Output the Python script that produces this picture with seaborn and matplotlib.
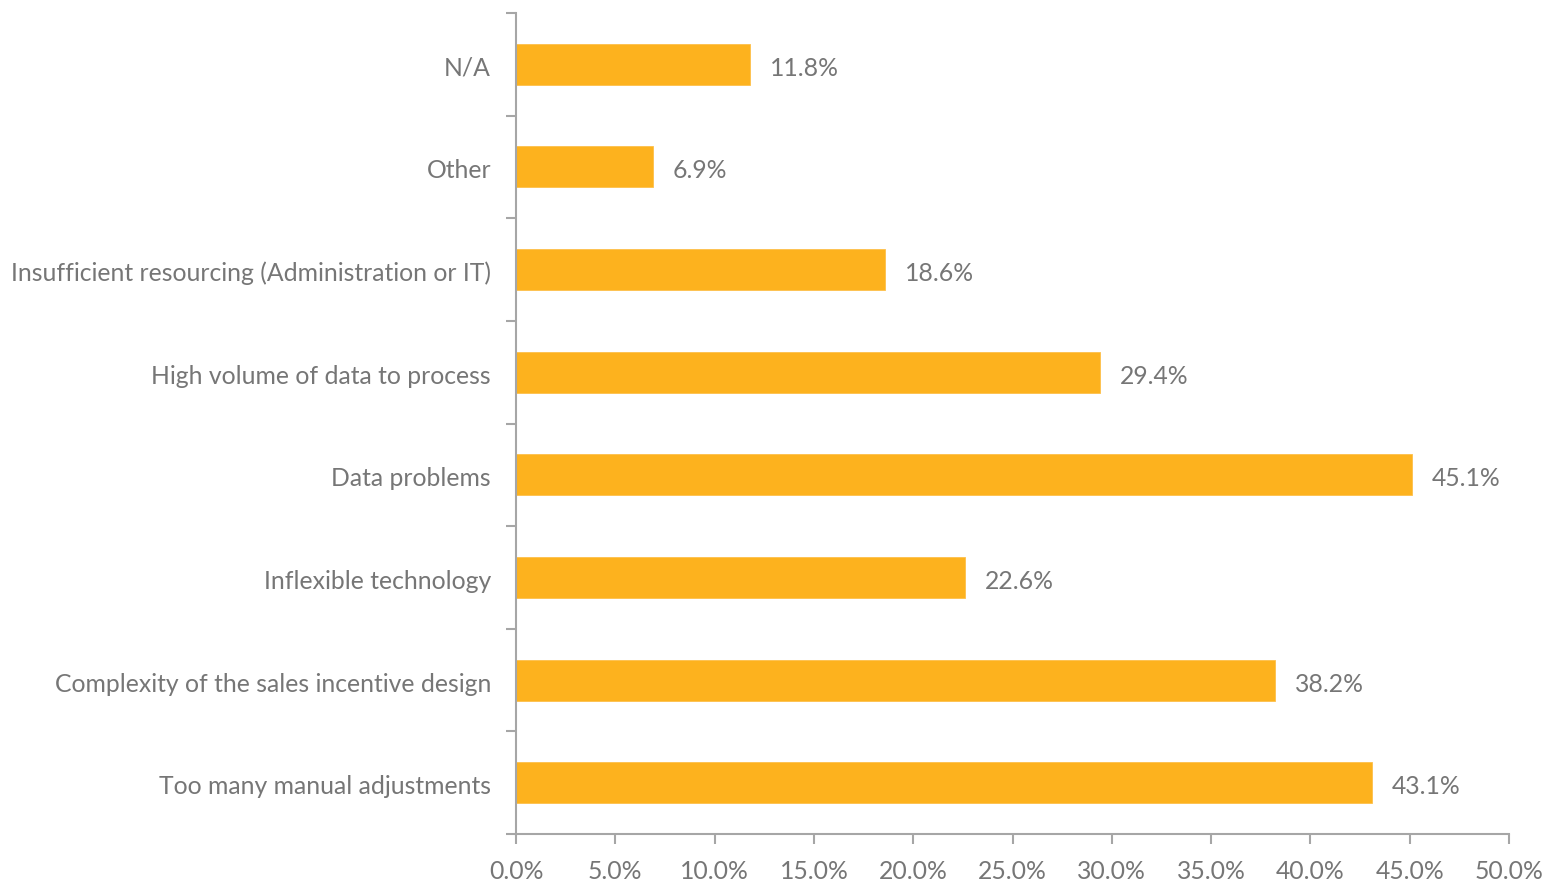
import matplotlib
matplotlib.use("Agg")
import matplotlib.pyplot as plt
import matplotlib.transforms as mtransforms
from matplotlib.ticker import FixedLocator, PercentFormatter
import seaborn as sns
import pandas as pd
import numpy as np

categories = [
    "N/A",
    "Other",
    "Insufficient resourcing (Administration or IT)",
    "High volume of data to process",
    "Data problems",
    "Inflexible technology",
    "Complexity of the sales incentive design",
    "Too many manual adjustments",
]
values = [11.8, 6.9, 18.6, 29.4, 45.1, 22.6, 38.2, 43.1]
x_ticks = [0, 5, 10, 15, 20, 25, 30, 35, 40, 45, 50]

bar_color = "#FDB21E"
text_color = "#767676"
axis_color = "#A6A6A6"
font_size = 17.8

sns.set_theme(style="white")
plt.rcParams["font.family"] = ["Lato", "DejaVu Sans"]

df = pd.DataFrame({"category": categories, "value": values})

fig = plt.figure(figsize=(15.45, 8.82), dpi=100)
ax = fig.add_axes([516 / 1545, 1 - 834 / 882, (1509 - 516) / 1545, (834 - 13) / 882])

sns.barplot(data=df, x="value", y="category", orient="h", color=bar_color,
            saturation=1, width=0.4, edgecolor="#FDC04A", linewidth=0.6, ax=ax)

n = len(categories)
ax.set_ylim(n - 0.5, -0.5)
ax.set_xlim(0, 50)
ax.set_xticks(x_ticks)
ax.xaxis.set_major_formatter(PercentFormatter(decimals=1))
ax.yaxis.set_minor_locator(FixedLocator(np.arange(-0.5, n, 1.0)))

ax.set_xlabel("")
ax.set_ylabel("")

for side in ["top", "right"]:
    ax.spines[side].set_visible(False)
for side in ["left", "bottom"]:
    ax.spines[side].set_color(axis_color)
    ax.spines[side].set_linewidth(1.5)

ax.tick_params(axis="y", which="major", length=0, pad=18, labelsize=font_size, labelcolor=text_color)
ax.tick_params(axis="y", which="minor", length=7, width=1.5, color=axis_color, direction="out", left=True)
ax.tick_params(axis="x", which="major", length=7, width=1.5, color=axis_color, direction="out",
               bottom=True, pad=12, labelsize=font_size, labelcolor=text_color)

# nudge category labels slightly down so they sit level with the bar centres
shift = mtransforms.ScaledTranslation(0, -2 / 100, fig.dpi_scale_trans)
for lbl in ax.get_yticklabels():
    lbl.set_verticalalignment("center_baseline")
    lbl.set_transform(lbl.get_transform() + shift)

for i, v in enumerate(values):
    ax.text(v + 1.0, i, f"{v:.1f}%", va="center_baseline", ha="left",
            fontsize=font_size, color=text_color, transform=ax.transData + shift)

fig.savefig("out.png", dpi=100)
